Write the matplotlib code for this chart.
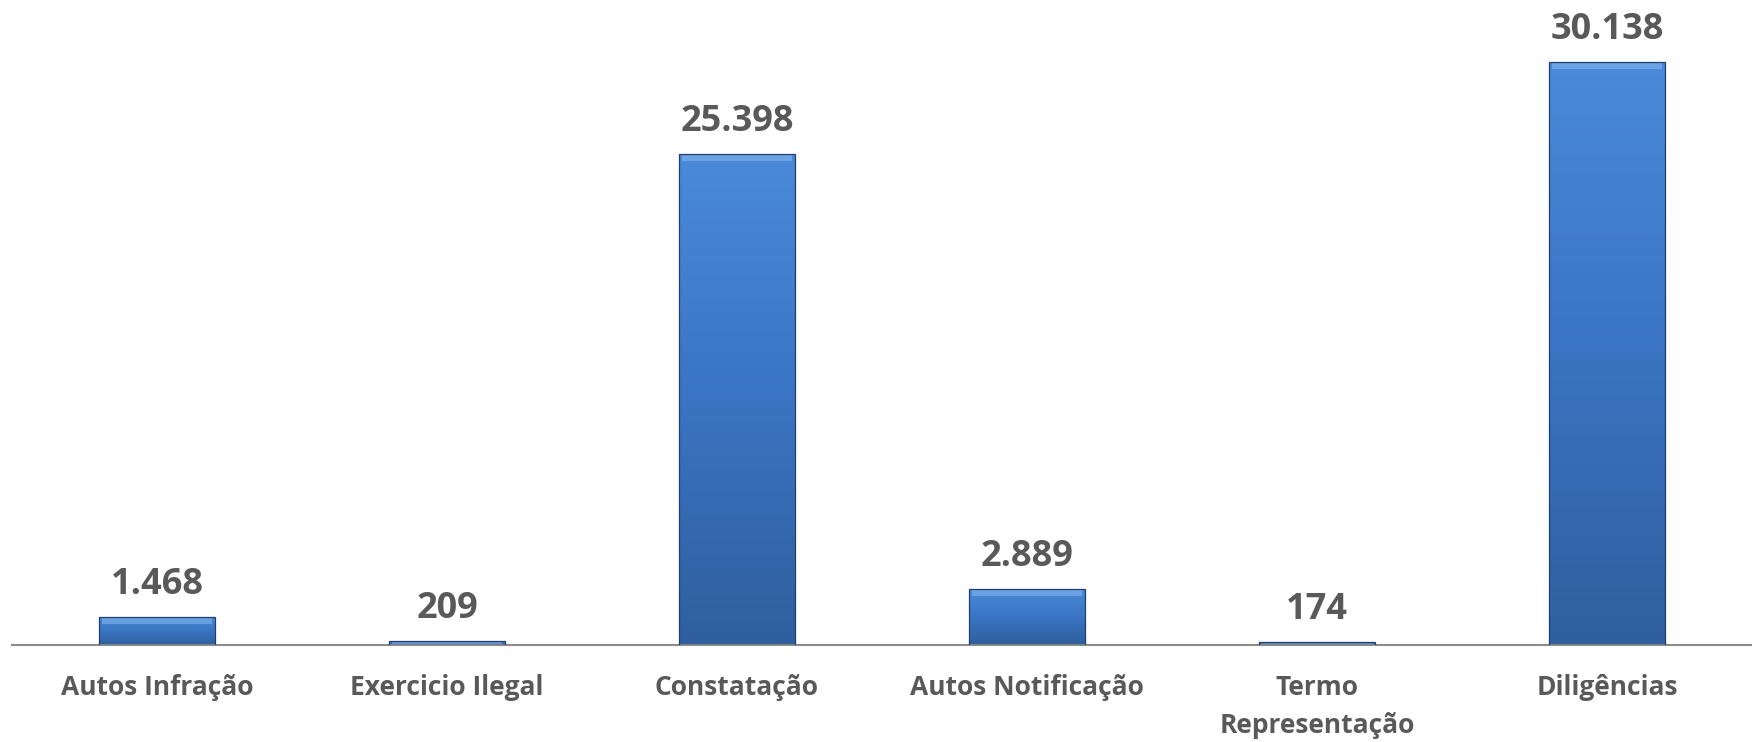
import matplotlib
matplotlib.use("Agg")
import matplotlib.pyplot as plt
import numpy as np
from matplotlib.colors import LinearSegmentedColormap

# ==============================
# Dados
# ==============================
categorias = ["Autos Infração", "Exercicio Ilegal", "Constatação",
              "Autos Notificação", "Termo\nRepresentação", "Diligências"]
valores = [1468, 209, 25398, 2889, 174, 30138]

cinza = "#595959"
plt.rcParams["font.family"] = ["Open Sans", "DejaVu Sans"]

# ==============================
# Figura
# ==============================
fig = plt.figure(figsize=(17.52, 7.42), dpi=100)
ax = fig.add_axes([12 / 1752, 97 / 742, 1740 / 1752, 645 / 742])

x = np.arange(len(categorias))
bars = ax.bar(x, valores, width=0.40, color="none",
              edgecolor="#203f6b", linewidth=0.9, zorder=3)

# preenchimento com gradiente (claro em cima, escuro embaixo)
cmap = LinearSegmentedColormap.from_list("azul", ["#4a8ad9", "#3a74c2", "#2f5f9e"])
grad = np.linspace(0, 1, 256).reshape(-1, 1)
for b in bars:
    x0, y0 = b.get_x(), b.get_y()
    w, h = b.get_width(), b.get_height()
    im = ax.imshow(grad, cmap=cmap, aspect="auto", origin="upper",
                   extent=(x0, x0 + w, y0, y0 + h),
                   zorder=2, interpolation="bicubic")
    im.set_clip_path(b)
    # faixa clara no topo (bisel)
    faixa = min(h, 380)
    ax.fill_between([x0 + w * 0.03, x0 + w * 0.97], y0 + h - faixa, y0 + h,
                    color="#8dbdf2", alpha=0.5, linewidth=0, zorder=2.5)

for xi, v in zip(x, valores):
    txt = f"{v:,}".replace(",", ".")
    ax.annotate(txt, (xi, v), xytext=(0, 10), textcoords="offset points",
                ha="center", va="bottom", fontsize=26, fontweight="bold", color=cinza)

ax.set_xlim(-0.5, len(categorias) - 0.5)
ax.set_ylim(0, 30138 * 645 / 583)
ax.set_xticks(x)
ax.set_xticklabels(categorias, fontsize=19, fontweight="bold", color=cinza,
                   linespacing=1.5)
ax.tick_params(axis="x", length=0, pad=21)
ax.set_yticks([])
for s in ["top", "right", "left"]:
    ax.spines[s].set_visible(False)
ax.spines["bottom"].set_color("#8c8c8c")
ax.spines["bottom"].set_linewidth(1.5)

fig.savefig("out.png", dpi=100)
